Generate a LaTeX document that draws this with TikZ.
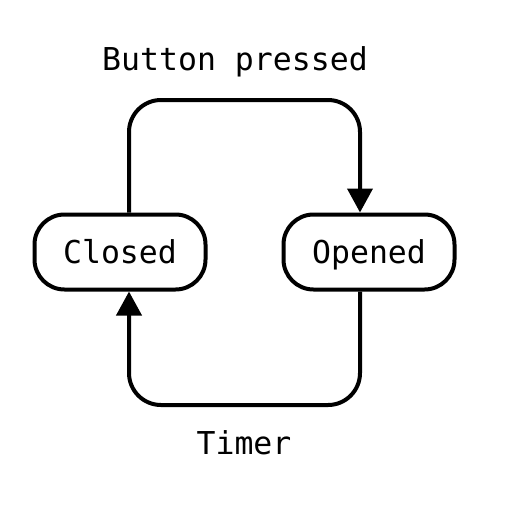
\documentclass[tikz,border=0pt]{standalone}
\usepackage{fontspec}
\setmonofont{DejaVu Sans Mono}
\usetikzlibrary{arrows.meta}
\begin{document}
\begin{tikzpicture}[x=1pt,y=-1pt,
  state/.style={draw,line width=4pt,rounded corners=30pt,minimum width=171pt,minimum height=75pt,inner sep=0pt,text height=22.6pt,text depth=0pt,font=\ttfamily\fontsize{31.5}{36}\selectfont},
  conn/.style={line width=4pt,rounded corners=32pt,-{Triangle[length=24pt,width=25pt]}},
  lbl/.style={font=\ttfamily\fontsize{31.5}{36}\selectfont,inner sep=0pt,anchor=base}]
\useasboundingbox (0,0) rectangle (513,504);
\node[state] (closed) at (120,252) {Closed};
\node[state] (opened) at (369,252) {Opened};
\coordinate (t1) at (129,100);
\coordinate (t2) at (360,100);
\coordinate (b1) at (360,405);
\coordinate (b2) at (129,405);
\draw[conn] (closed.north -| t1) -- (t1) -- (t2) -- (opened.north -| t2);
\draw[conn] (opened.south -| b1) -- (b1) -- (b2) -- (closed.south -| b2);
\node[lbl] (bp) at (235,70) {Button pressed};
\node[lbl] (tm) at (244,454) {Timer};
\end{tikzpicture}
\end{document}
